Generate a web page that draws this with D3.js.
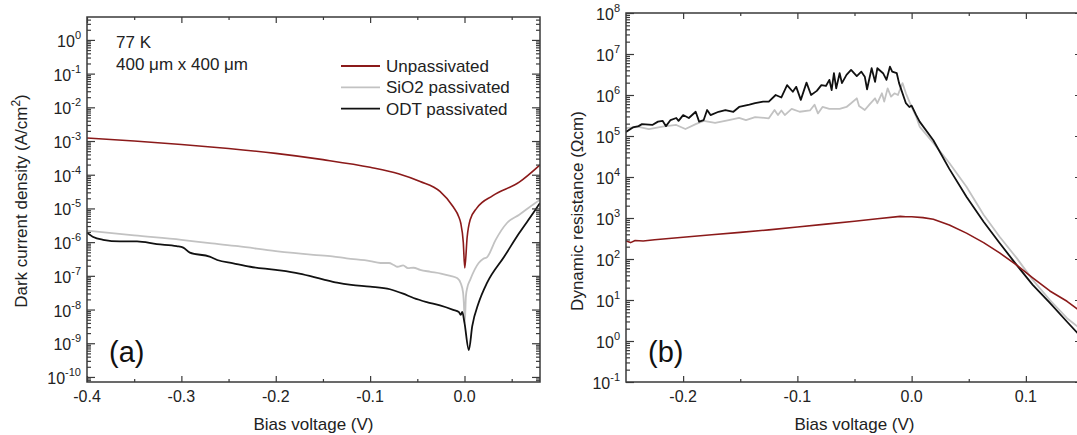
<!DOCTYPE html>
<html>
<head>
<meta charset="utf-8">
<script src="https://cdn.jsdelivr.net/npm/d3@7"></script>
<style>
body { margin: 0; background: #fff; }
svg { display: block; font-family: "Liberation Sans", Arial, sans-serif; }
.frame { fill: none; stroke: #3a3a3a; stroke-width: 1.5; }
.axis path { display: none; }
.axis line { stroke: #3a3a3a; stroke-width: 1.2; }
.ticklabel { font-size: 16px; fill: #222; }
.title { font-size: 17px; fill: #222; }
</style>
</head>
<body>
<svg id="chart" width="1077" height="435"></svg>
<script>
// ---- panel (a): dark current density vs bias (A/cm2) ----
let aUnpV = [-0.40, -0.35, -0.30, -0.25, -0.20, -0.15, -0.10, -0.07, -0.047, -0.026, -0.012, -0.006, -0.004, -0.0013,
             0.0003, 0.0028, 0.006, 0.013, 0.030, 0.058, 0.08];
let aUnpJ = [1.23e-3, 1.0e-3, 7.9e-4, 6.0e-4, 4.3e-4, 2.8e-4, 1.66e-4, 1.07e-4, 6.3e-5, 3.2e-5, 1.12e-5, 5.6e-6, 3.7e-6, 1.0e-6,
             1.7e-7, 1.4e-6, 4.6e-6, 1.02e-5, 2.4e-5, 6.0e-5, 1.95e-4];

let aSioV = [-0.40, -0.35, -0.30, -0.27, -0.24, -0.20, -0.16, -0.14, -0.125, -0.10, -0.089, -0.08, -0.075, -0.071, -0.065,
             -0.06, -0.054, -0.047, -0.036, -0.025, -0.015, -0.0075, -0.004, -0.0015, -0.0007, 0.0003, 0.0015, 0.003,
             0.006, 0.015, 0.020, 0.024, 0.033, 0.045, 0.058, 0.075, 0.08];
let aSioJ = [2.2e-6, 1.58e-6, 1.17e-6, 9.3e-7, 7.6e-7, 5.4e-7, 4.2e-7, 3.8e-7, 3.3e-7, 2.75e-7, 2.4e-7, 2.4e-7, 2.1e-7, 1.86e-7, 2.05e-7,
             1.7e-7, 1.74e-7, 1.5e-7, 1.32e-7, 1.17e-7, 1.0e-7, 8.5e-8, 6.0e-8, 3.2e-8, 1.58e-8, 4.0e-9, 2.5e-8, 4.5e-8,
             7.6e-8, 2.4e-7, 3.2e-7, 3.6e-7, 1.17e-6, 3.7e-6, 6.5e-6, 1.45e-5, 1.78e-5];

let aOdtV = [-0.40, -0.394, -0.383, -0.365, -0.347, -0.326, -0.305, -0.298, -0.291, -0.27, -0.262, -0.245, -0.227, -0.2,
             -0.175, -0.15, -0.135, -0.12, -0.1, -0.079, -0.065, -0.054, -0.04, -0.026, -0.012, -0.006, -0.004, -0.0024,
             0.0, 0.0046, 0.0082, 0.015, 0.024, 0.042, 0.058, 0.073, 0.08];
let aOdtJ = [1.9e-6, 1.45e-6, 1.17e-6, 1.05e-6, 1.05e-6, 8.7e-7, 7.6e-7, 6.9e-7, 4.9e-7, 3.7e-7, 2.95e-7, 2.35e-7, 1.86e-7, 1.5e-7,
             1.17e-7, 7.9e-8, 6.3e-8, 5.4e-8, 4.8e-8, 4.0e-8, 2.95e-8, 2.2e-8, 1.66e-8, 1.32e-8, 9.8e-9, 8.5e-9, 6.9e-9, 8.5e-9,
             4.0e-9, 6.3e-10, 3.2e-9, 1.58e-8, 6.3e-8, 3.7e-7, 1.86e-6, 7.4e-6, 1.45e-5];

// ---- panel (b): dynamic resistance vs bias (Ohm cm) ----
let bUnpV = [-0.250, -0.246, -0.242, -0.235, -0.225, -0.200, -0.175, -0.150, -0.125, -0.100, -0.075, -0.050, -0.030, -0.010,
             -0.005, 0.000, 0.010, 0.019, 0.033, 0.048, 0.063, 0.077, 0.092, 0.106, 0.121, 0.136, 0.150];
let bUnpR = [275, 251, 282, 275, 295, 339, 389, 447, 513, 603, 708, 832, 955, 1096,
             1072, 1072, 1023, 933, 676, 427, 251, 141, 71, 34.7, 16.6, 9.3, 4.8];

let bSioV = [-0.250, -0.239, -0.230, -0.218, -0.206, -0.198, -0.189, -0.182, -0.172, -0.160, -0.151, -0.145, -0.137, -0.125,
             -0.120, -0.117, -0.114, -0.111, -0.105, -0.098, -0.089, -0.085, -0.082, -0.078, -0.072, -0.063, -0.057, -0.053,
             -0.048, -0.046, -0.041, -0.037, -0.032, -0.030, -0.026, -0.024, -0.021, -0.018, -0.015, -0.012, -0.008, -0.005,
             0.000, 0.004, 0.007, 0.019, 0.033, 0.048, 0.063, 0.077, 0.092, 0.106, 0.121, 0.136, 0.150];
let bSioR = [1.55e5, 1.66e5, 1.48e5, 1.7e5, 1.86e5, 1.48e5, 1.95e5, 2.34e5, 2.1e5, 2.45e5, 2.75e5, 2.45e5, 2.9e5, 2.7e5,
             4.3e5, 3.24e5, 4.2e5, 3.24e5, 4.6e5, 3.9e5, 4.2e5, 5.8e5, 3.55e5, 5.1e5, 4.6e5, 4.6e5, 5.1e5, 6.3e5,
             8.3e5, 5.4e5, 4.3e5, 5.8e5, 8.3e5, 6.3e5, 1.1e6, 6.9e5, 1.45e6, 9.1e5, 1.1e6, 1.0e6, 1.95e6, 1.1e6,
             5.1e5, 2.95e5, 1.7e5, 6.8e4, 2.2e4, 5.8e3, 1.2e3, 350, 105, 31, 10, 3.6, 1.78];

let bOdtV = [-0.250, -0.244, -0.239, -0.236, -0.227, -0.222, -0.218, -0.215, -0.211, -0.206, -0.204, -0.200, -0.195, -0.189,
             -0.186, -0.182, -0.179, -0.176, -0.169, -0.163, -0.156, -0.151, -0.142, -0.137, -0.130, -0.125, -0.119, -0.114,
             -0.109, -0.104, -0.101, -0.097, -0.092, -0.088, -0.083, -0.079, -0.075, -0.072, -0.070, -0.068, -0.066, -0.063,
             -0.061, -0.057, -0.053, -0.048, -0.044, -0.041, -0.039, -0.035, -0.032, -0.030, -0.025, -0.022, -0.019, -0.017,
             -0.013, -0.011, -0.005, -0.002, 0.000, 0.004, 0.007, 0.019, 0.033, 0.048, 0.063, 0.077, 0.092, 0.106,
             0.121, 0.136, 0.150];
let bOdtR = [1.26e5, 1.62e5, 1.74e5, 1.95e5, 1.86e5, 2.24e5, 2.34e5, 1.74e5, 2.45e5, 2.75e5, 2.34e5, 3.24e5, 2.75e5, 3.9e5,
             2.24e5, 2.45e5, 4.3e5, 3.24e5, 3.9e5, 4.3e5, 3.9e5, 5.1e5, 5.8e5, 6.3e5, 6.9e5, 6.9e5, 1.0e6, 8.7e5,
             1.74e6, 1.2e6, 1.58e6, 7.6e5, 2.0e6, 1.0e6, 1.26e6, 1.74e6, 1.66e6, 2.34e6, 1.32e6, 3.4e6, 1.45e6, 3.4e6,
             1.95e6, 3.1e6, 4.1e6, 2.9e6, 3.7e6, 2.8e6, 1.38e6, 4.5e6, 2.1e6, 4.5e6, 3.4e6, 2.34e6, 4.9e6, 3.7e6,
             3.4e6, 1.95e6, 6.3e5, 5.1e5, 5.5e5, 3.24e5, 2.24e5, 7.9e4, 1.58e4, 3.3e3, 810, 245, 71, 23.4,
             8.5, 2.95, 1.12];

// axes and legend text
let aXTicks = [-0.4, -0.3, -0.2, -0.1, 0.0];
let aXLabels = ["-0.4", "-0.3", "-0.2", "-0.1", "0.0"];
let aXMinor = [-0.35, -0.25, -0.15, -0.05, 0.05];
let aYExp = [-10, -9, -8, -7, -6, -5, -4, -3, -2, -1, 0];

let bXTicks = [-0.2, -0.1, 0.0, 0.1];
let bXLabels = ["-0.2", "-0.1", "0.0", "0.1"];
let bXMinor = [-0.15, -0.05, 0.05];
let bYExp = [-1, 0, 1, 2, 3, 4, 5, 6, 7, 8];

let seriesNames = ["Unpassivated", "SiO2 passivated", "ODT passivated"];
let seriesColors = ["#8b1a1a", "#c2c2c2", "#111111"];

let svg = d3.select("#chart");

function zip(xs, ys) {
    return xs.map(function(x, i) { return [x, ys[i]]; });
}

// minor log ticks 2..9 x 10^e inside the domain
function logMinor(domain) {
    let out = [];
    let lo = Math.floor(Math.log10(domain[0])), hi = Math.ceil(Math.log10(domain[1]));
    for (let e = lo; e <= hi; e++) {
        for (let k = 2; k <= 9; k++) {
            let v = k * Math.pow(10, e);
            if (v >= domain[0] && v <= domain[1]) out.push(v);
        }
    }
    return out;
}

function renderPanel(id, box, xDomain, yDomain, opts) {
    let x = d3.scaleLinear().domain(xDomain).range([box.left, box.right]);
    let y = d3.scaleLog().domain(yDomain).range([box.bottom, box.top]);
    let g = svg.append("g").attr("id", id);

    g.append("clipPath").attr("id", id + "clip")
        .append("rect")
        .attr("x", box.left).attr("y", box.top)
        .attr("width", box.right - box.left).attr("height", box.bottom - box.top);

    let line = d3.line().x(d => x(d[0])).y(d => y(d[1])).curve(opts.curve);
    let lines = g.append("g").attr("clip-path", "url(#" + id + "clip)");
    // draw grey first, then black, then red
    [1, 2, 0].forEach(function(i) {
        lines.append("path")
            .datum(opts.series[i])
            .attr("fill", "none")
            .attr("stroke", seriesColors[i])
            .attr("stroke-width", i == 0 ? 1.6 : 1.8)
            .attr("stroke-linejoin", "round")
            .attr("d", line);
    });

    // ticks all point inward
    let yMajor = opts.yExp.map(e => Math.pow(10, e));
    let yMinor = logMinor(yDomain);
    g.append("g").attr("class", "axis").attr("transform", "translate(" + box.left + ",0)")
        .call(d3.axisLeft(y).tickValues(yMajor).tickSize(-8).tickFormat(""));
    g.append("g").attr("class", "axis").attr("transform", "translate(" + box.left + ",0)")
        .call(d3.axisLeft(y).tickValues(yMinor).tickSize(-4).tickFormat(""));
    g.append("g").attr("class", "axis").attr("transform", "translate(" + box.right + ",0)")
        .call(d3.axisRight(y).tickValues(yMajor).tickSize(-8).tickFormat(""));
    g.append("g").attr("class", "axis").attr("transform", "translate(" + box.right + ",0)")
        .call(d3.axisRight(y).tickValues(yMinor).tickSize(-4).tickFormat(""));

    g.append("g").attr("class", "axis").attr("transform", "translate(0," + box.bottom + ")")
        .call(d3.axisBottom(x).tickValues(opts.xTicks).tickSize(-6).tickFormat(""));
    g.append("g").attr("class", "axis").attr("transform", "translate(0," + box.bottom + ")")
        .call(d3.axisBottom(x).tickValues(opts.xMinor).tickSize(-3).tickFormat(""));
    g.append("g").attr("class", "axis").attr("transform", "translate(0," + box.top + ")")
        .call(d3.axisTop(x).tickValues(opts.xTicks).tickSize(-6).tickFormat(""));
    g.append("g").attr("class", "axis").attr("transform", "translate(0," + box.top + ")")
        .call(d3.axisTop(x).tickValues(opts.xMinor).tickSize(-3).tickFormat(""));

    g.append("rect").attr("class", "frame")
        .attr("x", box.left).attr("y", box.top)
        .attr("width", box.right - box.left).attr("height", box.bottom - box.top);

    // tick labels
    g.selectAll(".xlab").data(opts.xTicks).enter().append("text")
        .attr("class", "ticklabel")
        .attr("x", d => x(d))
        .attr("y", box.bottom + 20)
        .attr("text-anchor", "middle")
        .text((d, i) => opts.xLabels[i]);

    let yl = g.selectAll(".ylab").data(opts.yExp).enter().append("text")
        .attr("class", "ticklabel")
        .attr("x", box.left - 6)
        .attr("y", d => y(Math.pow(10, d)) + 7)
        .attr("text-anchor", "end");
    yl.append("tspan").text("10");
    yl.append("tspan").attr("dy", -8).attr("font-size", "11px").text(d => String(d));

    // axis titles
    g.append("text").attr("class", "title")
        .attr("x", (box.left + box.right) / 2)
        .attr("y", 430)
        .attr("text-anchor", "middle")
        .text("Bias voltage (V)");

    let yt = g.append("text").attr("class", "title")
        .attr("transform", "translate(" + opts.yTitlePos[0] + "," + opts.yTitlePos[1] + ") rotate(-90)")
        .attr("text-anchor", "middle");
    opts.yTitle(yt);

    g.append("text")
        .attr("x", box.left + 22)
        .attr("y", 362)
        .attr("font-size", "29px")
        .attr("fill", "#111")
        .text(opts.tag);

    return {x: x, y: y, g: g};
}

let pa = renderPanel("pa", {left: 87, right: 540, top: 17, bottom: 382},
    [-0.4, 0.08], [Math.pow(10, -10.15), Math.pow(10, 0.68)], {
        series: [zip(aUnpV, aUnpJ), zip(aSioV, aSioJ), zip(aOdtV, aOdtJ)],
        curve: d3.curveMonotoneX,
        xTicks: aXTicks, xLabels: aXLabels, xMinor: aXMinor, yExp: aYExp,
        yTitlePos: [27, 201],
        yTitle: function(t) {
            t.append("tspan").text("Dark current density (A/cm");
            t.append("tspan").attr("dy", -7).attr("font-size", "12px").text("2");
            t.append("tspan").attr("dy", 7).text(")");
        },
        tag: "(a)"
    });

let pb = renderPanel("pb", {left: 626, right: 1083, top: 13, bottom: 382},
    [-0.25, 0.15], [Math.pow(10, -1), Math.pow(10, 8)], {
        series: [zip(bUnpV, bUnpR), zip(bSioV, bSioR), zip(bOdtV, bOdtR)],
        curve: d3.curveLinear,
        xTicks: bXTicks, xLabels: bXLabels, xMinor: bXMinor, yExp: bYExp,
        yTitlePos: [583, 211],
        yTitle: function(t) { t.text("Dynamic resistance (\u03A9cm)"); },
        tag: "(b)"
    });

// annotations in (a)
pa.g.append("text").attr("class", "title").attr("x", 116).attr("y", 48).text("77 K");
pa.g.append("text").attr("class", "title").attr("x", 116).attr("y", 70).text("400 \u03BCm x 400 \u03BCm");

// legend
let leg = pa.g.selectAll(".leg").data(seriesNames).enter().append("g")
    .attr("transform", (d, i) => "translate(341," + (66 + i * 21.3) + ")");
leg.append("line")
    .attr("x1", 0).attr("x2", 39)
    .attr("stroke", (d, i) => seriesColors[i])
    .attr("stroke-width", 1.8);
leg.append("text").attr("class", "title")
    .attr("x", 45).attr("y", 6)
    .text(d => d);
</script>
</body>
</html>
